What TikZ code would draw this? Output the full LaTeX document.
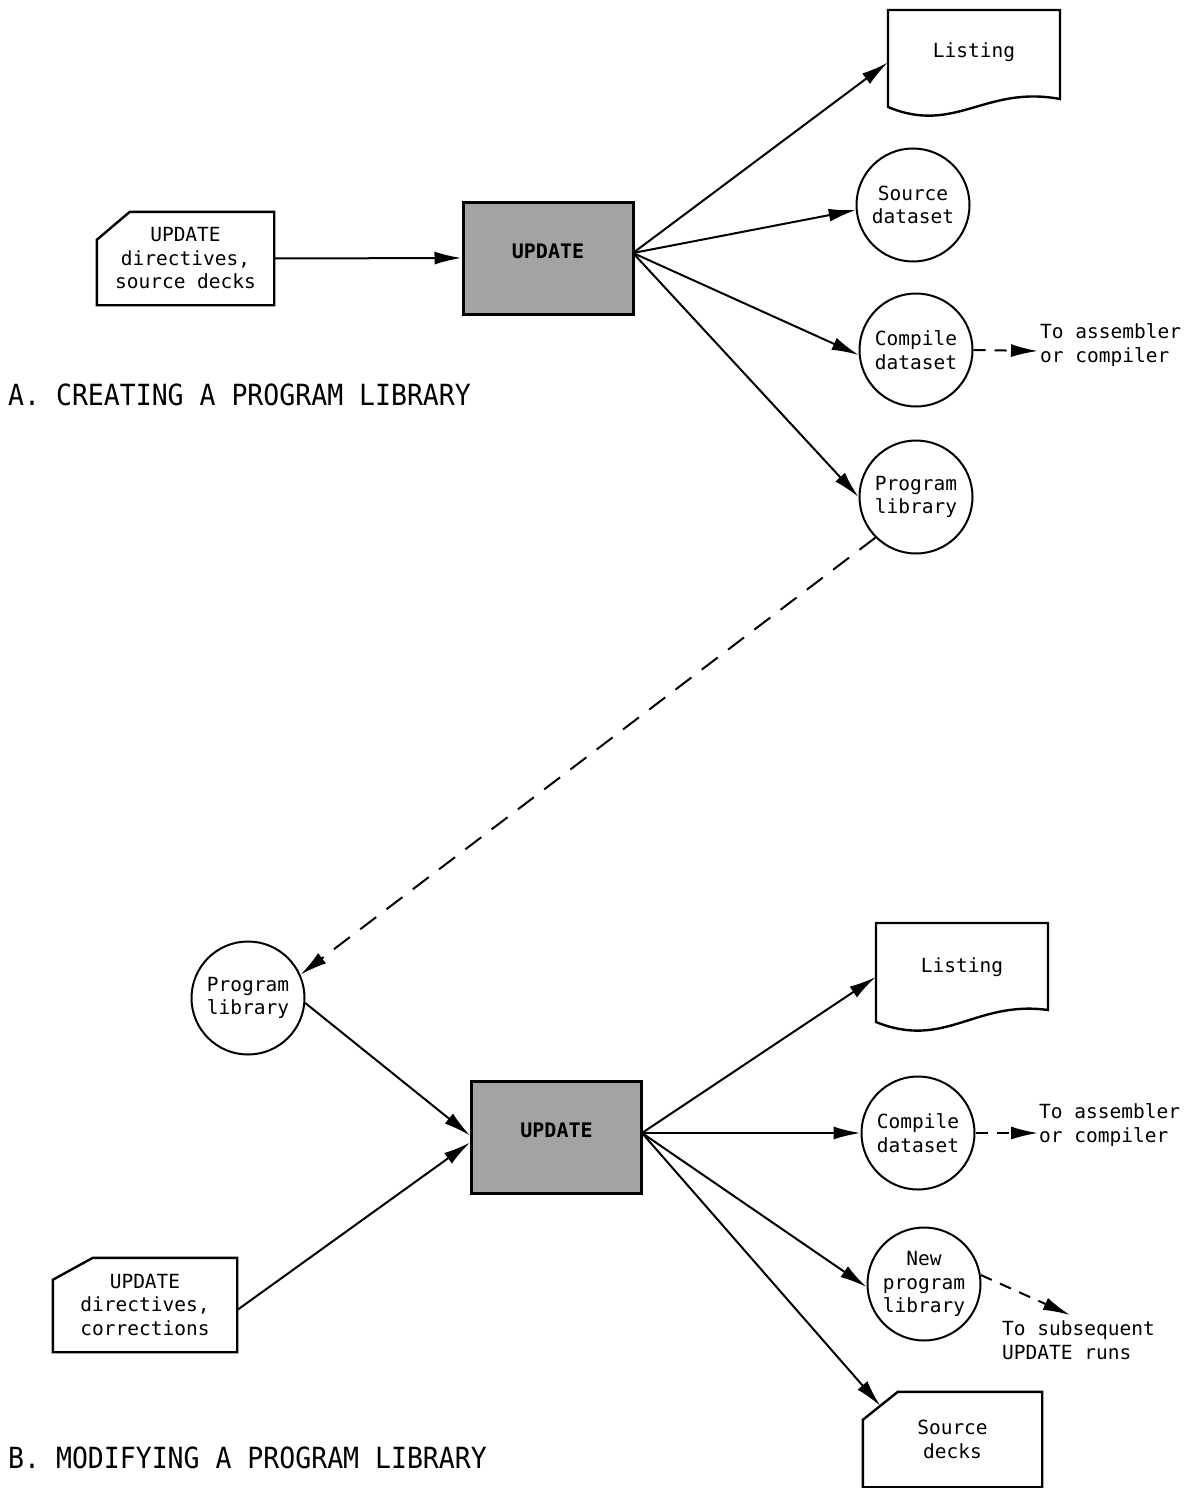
\documentclass[tikz,border=0pt]{standalone}
\usepackage{fontspec}
\setmonofont{DejaVu Sans Mono}
\usetikzlibrary{arrows.meta}
\begin{document}
\begin{tikzpicture}[x=1pt,y=-1pt,
  txt/.style={font=\ttfamily\fontsize{19.5}{23.5}\selectfont, align=center, inner sep=0pt},
  ltxt/.style={txt, align=left, anchor=west},
  ttl/.style={font=\ttfamily\fontsize{26.5}{30}\selectfont, anchor=west, inner sep=0pt},
  circ/.style={circle, draw, line width=2pt, minimum size=113pt, inner sep=0pt, txt},
  outl/.style={line width=2.4pt, line join=miter},
  upd/.style={draw, line width=3pt, fill=black!36, minimum width=170pt, minimum height=112pt,
    inner sep=0pt, text height=15pt, text depth=15pt,
    font=\ttfamily\bfseries\fontsize{20}{24}\selectfont},
  arr/.style={-{Latex[length=27pt,width=13pt]}, line width=2pt},
  darr/.style={arr, dash pattern=on 12pt off 9pt},
  ldash/.style={arr, dash pattern=on 20pt off 13pt}
]
\useasboundingbox (0,0) rectangle (1198,1488);

% ---------------- A ----------------
\node[txt, minimum width=177pt, minimum height=93pt] (cardA) at (185.5,258.5)
  {UPDATE\\directives,\\source decks};
\draw[outl] ([yshift=-28pt]cardA.north west) -- ([xshift=33pt]cardA.north west)
  -- (cardA.north east) -- (cardA.south east) -- (cardA.south west) -- cycle;

\node[upd] (updA) at (548,258) {UPDATE};

\node[txt, minimum width=172pt, minimum height=97pt, text height=15pt, text depth=16pt]
  (listA) at (974,58.5) {Listing};
\draw[outl] (888,10) -- (1060,10) -- (1060,99)
  .. controls (985,85) and (955,135) .. (888,107) -- cycle;

\node[circ] (srcA) at (913,205) {Source\\dataset};
\node[circ] (cmpA) at (916,350) {Compile\\dataset};
\node[circ] (prgA) at (916,497) {Program\\library};

\node[ltxt] (asmA) at (1040,345) {To assembler\\or compiler};
\coordinate (asmAend) at (1038,351);

\node[ttl] (titA) at (8,395) {\scalebox{1}[1.1]{A. CREATING A PROGRAM LIBRARY}};

\coordinate (oA) at (633,253);
\draw[arr] (cardA.east) -- (updA.west);
\draw[arr] (oA) -- ([yshift=-4pt]listA.west);
\draw[arr] (oA) -- (srcA.185);
\draw[arr] (oA) -- (cmpA.185);
\draw[arr] (oA) -- (prgA.west);
\draw[darr] (cmpA.east) -- (asmAend);

% ---------------- B ----------------
\node[circ] (prgB) at (248,998) {Program\\library};
\draw[ldash] (prgA.south west) -- (prgB.24);

\node[upd] (updB) at (556.5,1137.5) {UPDATE};

\node[txt, minimum width=184pt, minimum height=94pt] (cardB) at (145,1305)
  {UPDATE\\directives,\\corrections};
\draw[outl] ([yshift=-22pt]cardB.north west) -- ([xshift=40pt]cardB.north west)
  -- (cardB.north east) -- (cardB.south east) -- (cardB.south west) -- cycle;

\node[txt, minimum width=172pt, minimum height=99pt, text height=15pt, text depth=16pt]
  (listB) at (962,972.5) {Listing};
\draw[outl] (876,923) -- (1048,923) -- (1048,1010)
  .. controls (975,1000) and (945,1050) .. (876,1022) -- cycle;

\node[circ] (cmpB) at (918,1133) {Compile\\dataset};
\node[circ] (newB) at (924,1284) {New\\program\\library};

\node[txt, minimum width=179pt, minimum height=95pt] (srcB) at (952.5,1439.5)
  {Source\\decks};
\draw[outl] ([yshift=-28pt]srcB.north west) -- ([xshift=35pt]srcB.north west)
  -- (srcB.north east) -- (srcB.south east) -- (srcB.south west) -- cycle;

\node[ltxt] (asmB) at (1039,1125) {To assembler\\or compiler};
\coordinate (asmBend) at (1038,1133);
\node[ltxt] (subB) at (1002,1340) {To subsequent\\UPDATE runs};
\coordinate (subBend) at (1070,1315);

\node[ttl] (titB) at (8,1458) {\scalebox{1}[1.1]{B. MODIFYING A PROGRAM LIBRARY}};

\coordinate (oB) at (642,1133);
\draw[arr] (prgB.-5) -- ([yshift=2pt]updB.west);
\draw[arr] ([yshift=-5pt]cardB.east) -- ([yshift=-5pt]updB.west);
\draw[arr] (oB) -- ([yshift=-4.5pt]listB.west);
\draw[arr] (oB) -- (cmpB.west);
\draw[arr] (oB) -- (newB.183);
\draw[arr] (oB) -- ([xshift=17.5pt,yshift=-14pt]srcB.north west);
\draw[darr] (cmpB.east) -- (asmBend);
\draw[darr] (newB.9) -- (subBend);
\end{tikzpicture}
\end{document}
